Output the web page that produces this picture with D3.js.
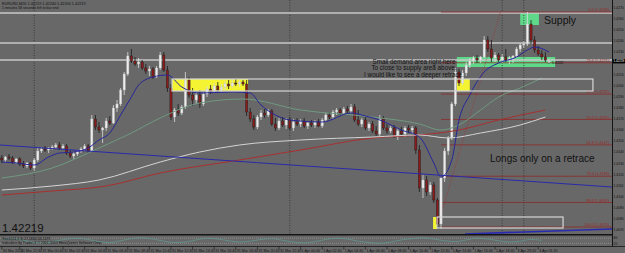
<!DOCTYPE html>
<html><head><meta charset="utf-8">
<script src="https://cdn.jsdelivr.net/npm/d3@7"></script>
<style>body{margin:0;background:#686868;overflow:hidden}svg{display:block}text{font-family:"Liberation Sans",Arial,sans-serif}</style>
</head><body><svg id="c" width="625" height="253"></svg>
<script>
// ---- DATA (EURUSD M20) ----
const open=[1.41348,1.41330,1.41357,1.41348,1.41312,1.41339,1.41294,1.41276,1.41303,1.41258,
1.41330,1.41411,1.41429,1.41420,1.41438,1.41447,1.41465,1.41438,1.41456,1.41393,
1.41366,1.41384,1.41411,1.41429,1.41456,1.41411,1.41699,1.41627,1.41600,1.41618,
1.41681,1.41663,1.41798,1.41834,1.41960,1.42104,1.42266,1.42221,1.42194,1.42212,
1.42158,1.42131,1.42149,1.42077,1.42158,1.42275,1.42140,1.41978,1.41717,1.41780,
1.41753,1.41807,1.42050,1.41915,1.41870,1.41915,1.41834,1.41924,1.41969,1.41951,
1.41996,1.41960,1.41987,1.42014,1.41996,1.42023,1.42014,1.42032,1.42014,1.41762,
1.41699,1.41627,1.41717,1.41753,1.41735,1.41771,1.41654,1.41618,1.41681,1.41645,
1.41690,1.41618,1.41672,1.41654,1.41681,1.41636,1.41663,1.41645,1.41672,1.41636,
1.41690,1.41735,1.41717,1.41762,1.41780,1.41753,1.41789,1.41771,1.41807,1.41690,
1.41654,1.41690,1.41618,1.41654,1.41591,1.41564,1.41699,1.41618,1.41591,1.41618,
1.41546,1.41591,1.41564,1.41618,1.41600,1.41618,1.41420,1.41078,1.41150,1.41042,
1.41105,1.40970,1.40754,1.41168,1.41411,1.41528,1.41834,1.42122,1.42023,1.42113,
1.42185,1.42221,1.42248,1.42230,1.42257,1.42410,1.42329,1.42248,1.42275,1.42230,
1.42257,1.42230,1.42248,1.42266,1.42329,1.42365,1.42374,1.42554,1.42410,1.42320,
1.42284,1.42257,1.42219];
const high=[1.41375,1.41366,1.41384,1.41366,1.41348,1.41357,1.41321,1.41312,1.41312,1.41348,
1.41438,1.41447,1.41456,1.41447,1.41465,1.41483,1.41492,1.41474,1.41474,1.41420,
1.41402,1.41420,1.41447,1.41474,1.41474,1.41735,1.41735,1.41672,1.41627,1.41708,
1.41726,1.41825,1.41870,1.41978,1.42122,1.42302,1.42329,1.42257,1.42248,1.42230,
1.42194,1.42176,1.42167,1.42176,1.42302,1.42302,1.42176,1.42014,1.41798,1.41834,
1.41825,1.42122,1.42077,1.41978,1.41942,1.41960,1.41942,1.41996,1.42005,1.42023,
1.42032,1.42014,1.42041,1.42050,1.42059,1.42059,1.42050,1.42050,1.42050,1.41798,
1.41735,1.41735,1.41780,1.41789,1.41789,1.41789,1.41708,1.41708,1.41717,1.41708,
1.41717,1.41699,1.41708,1.41699,1.41708,1.41681,1.41690,1.41690,1.41699,1.41708,
1.41753,1.41762,1.41780,1.41798,1.41798,1.41807,1.41816,1.41834,1.41834,1.41780,
1.41708,1.41717,1.41672,1.41681,1.41636,1.41735,1.41726,1.41654,1.41636,1.41645,
1.41618,1.41627,1.41636,1.41645,1.41636,1.41636,1.41465,1.41195,1.41186,1.41132,
1.41132,1.40988,1.41186,1.41438,1.41546,1.41852,1.42158,1.42149,1.42140,1.42212,
1.42248,1.42266,1.42275,1.42266,1.42446,1.42446,1.42410,1.42302,1.42293,1.42284,
1.42329,1.42266,1.42275,1.42347,1.42383,1.42401,1.42662,1.42590,1.42446,1.42356,
1.42320,1.42302,1.42240];
const low=[1.41303,1.41312,1.41330,1.41294,1.41294,1.41276,1.41258,1.41258,1.41240,1.41231,
1.41312,1.41393,1.41402,1.41393,1.41420,1.41429,1.41420,1.41420,1.41375,1.41348,
1.41339,1.41366,1.41393,1.41411,1.41393,1.41402,1.41600,1.41573,1.41483,1.41591,
1.41645,1.41654,1.41762,1.41816,1.41915,1.42086,1.42203,1.42176,1.42158,1.42140,
1.42104,1.42086,1.42059,1.42068,1.42140,1.42122,1.41942,1.41690,1.41672,1.41726,
1.41735,1.41789,1.41888,1.41816,1.41834,1.41798,1.41816,1.41897,1.41924,1.41933,
1.41942,1.41942,1.41960,1.41969,1.41978,1.41996,1.41987,1.41996,1.41726,1.41672,
1.41600,1.41609,1.41690,1.41708,1.41717,1.41636,1.41591,1.41600,1.41627,1.41609,
1.41600,1.41591,1.41636,1.41627,1.41618,1.41609,1.41627,1.41618,1.41627,1.41618,
1.41672,1.41699,1.41699,1.41735,1.41735,1.41735,1.41753,1.41753,1.41672,1.41636,
1.41627,1.41600,1.41591,1.41573,1.41546,1.41546,1.41600,1.41564,1.41573,1.41528,
1.41510,1.41546,1.41537,1.41573,1.41564,1.41384,1.41042,1.40988,1.41006,1.41015,
1.40943,1.40718,1.40709,1.41132,1.41375,1.41510,1.41816,1.41996,1.42005,1.42086,
1.42158,1.42194,1.42203,1.42203,1.42248,1.42302,1.42212,1.42212,1.42212,1.42203,
1.42212,1.42194,1.42203,1.42248,1.42302,1.42338,1.42356,1.42374,1.42293,1.42266,
1.42230,1.42212,1.42200];
const close=[1.41330,1.41357,1.41348,1.41312,1.41339,1.41294,1.41276,1.41303,1.41258,1.41330,
1.41411,1.41429,1.41420,1.41438,1.41447,1.41465,1.41438,1.41456,1.41393,1.41366,
1.41384,1.41411,1.41429,1.41456,1.41411,1.41699,1.41627,1.41600,1.41618,1.41681,
1.41663,1.41798,1.41834,1.41960,1.42104,1.42266,1.42221,1.42194,1.42212,1.42158,
1.42131,1.42149,1.42077,1.42158,1.42275,1.42140,1.41978,1.41717,1.41780,1.41753,
1.41807,1.42050,1.41915,1.41870,1.41915,1.41834,1.41924,1.41969,1.41951,1.41996,
1.41960,1.41987,1.42014,1.41996,1.42023,1.42014,1.42032,1.42014,1.41762,1.41699,
1.41627,1.41717,1.41753,1.41735,1.41771,1.41654,1.41618,1.41681,1.41645,1.41690,
1.41618,1.41672,1.41654,1.41681,1.41636,1.41663,1.41645,1.41672,1.41636,1.41690,
1.41735,1.41717,1.41762,1.41780,1.41753,1.41789,1.41771,1.41807,1.41690,1.41654,
1.41690,1.41618,1.41654,1.41591,1.41564,1.41699,1.41618,1.41591,1.41618,1.41546,
1.41591,1.41564,1.41618,1.41600,1.41618,1.41420,1.41078,1.41150,1.41042,1.41105,
1.40970,1.40754,1.41168,1.41411,1.41528,1.41834,1.42122,1.42023,1.42113,1.42185,
1.42221,1.42248,1.42230,1.42257,1.42410,1.42329,1.42248,1.42275,1.42230,1.42257,
1.42230,1.42248,1.42266,1.42329,1.42365,1.42374,1.42554,1.42410,1.42320,1.42284,
1.42257,1.42230,1.42219];

// moving averages, [bar, price]
const maFast=[[0,1.41312],[4,1.41303],[9,1.41285],[13,1.41357],[16,1.41393],[20,1.41402],[24,1.41438],[27,1.41510],[30,1.41573],[33,1.41735],[36,1.41897],[38,1.42005],[42,1.42077],[46,1.42095],[50,1.41987],[55,1.41933],[64,1.41942],[69,1.41933],[72,1.41825],[76,1.41735],[80,1.41690],[89,1.41672],[97,1.41753],[101,1.41726],[105,1.41690],[111,1.41600],[116,1.41537],[120,1.41303],[122,1.41177],[125,1.41330],[127,1.41690],[130,1.41915],[134,1.42122],[138,1.42203],[143,1.42257],[146,1.42320],[148,1.42347],[152,1.42302]];
const maMid=[[0,1.41168],[14,1.41258],[27,1.41438],[36,1.41573],[44,1.41708],[55,1.41843],[67,1.41879],[83,1.41780],[103,1.41717],[116,1.41654],[122,1.41600],[127,1.41645],[133,1.41780],[138,1.41897],[144,1.41978],[150,1.42068]];
const maSlow=[[0,1.41060],[14,1.41096],[27,1.41150],[44,1.41312],[55,1.41402],[66,1.41465],[83,1.41510],[103,1.41537],[116,1.41555],[124,1.41528],[133,1.41573],[144,1.41645],[151,1.41717]];
const maLong=[[0,1.41015],[14,1.41051],[29,1.41096],[44,1.41213],[66,1.41330],[83,1.41420],[103,1.41528],[116,1.41555],[127,1.41600],[138,1.41690],[151,1.41780]];

const trendLine=[[-0.5,1.41465],[169.5,1.41087]];
const trendLine2=[[128.7,1.40664],[169.5,1.40709]];
const hLines=[1.42653,1.42383,1.42230];
const fibLevels=["0.0","23.6","38.2","50.0","61.8","76.4","88.6","100.0"];
const fibPrices=[1.42662,1.42205,1.41923,1.41695,1.41466,1.41184,1.40948,1.40727];
const fibDiag=[[121,1.40727],[138.5,1.42662]];
// rectangles: [startBar, endBar, topPrice, bottomPrice, kind]
const zones=[[47.3,68.4,1.42059,1.41951,"yellow"],[126.4,130,1.42059,1.41951,"yellow"],
[119.8,120.9,1.40817,1.40709,"yellow"],[126.4,153.7,1.42257,1.42167,"green"],[144,149.2,1.42653,1.42545,"green"]];
const frames=[[47.3,164.2,1.42059,1.41951],[120.9,155.9,1.40817,1.40718]];
const separators=[9,80,139,145];
const timeTicks=[[0,"30 Mar 2011"],[5,"30 Mar 22:40"],[11,"31 Mar 00:40"],[17,"31 Mar 02:40"],[23,"31 Mar 04:40"],[29,"31 Mar 06:40"],[35,"31 Mar 08:40"],[41,"31 Mar 10:40"],[47,"31 Mar 12:40"],[53,"31 Mar 14:40"],[59,"31 Mar 16:40"],[65,"31 Mar 18:40"],[71,"31 Mar 20:40"],[77,"31 Mar 22:40"],[83,"1 Apr 00:40"],[89,"1 Apr 02:40"],[95,"1 Apr 04:40"],[101,"1 Apr 06:40"],[107,"1 Apr 08:40"],[113,"1 Apr 10:40"],[119,"1 Apr 12:40"],[125,"1 Apr 14:40"],[131,"1 Apr 16:40"],[137,"1 Apr 18:40"],[143,"3 Apr 23:20"],[149,"4 Apr 01:20"]];
const priceTicks=[1.4070,1.4080,1.4090,1.4100,1.4110,1.4120,1.4130,1.4140,1.4150,1.4160,1.4170,1.4180,1.4190,1.4200,1.4210,1.4220,1.4230,1.4240,1.4250,1.4260,1.4270];
const osc=[60,75,55,30,25,45,70,80,65,40,30,50,75,85,70,45,30,35,60,80,70,50,35,45,65,75,55,35,25,40,65,80,70,45,30,20,35,60,75,85,70,50,40,60,80,70,50,35,45,65,55];
const lastPrice=1.42219;

// ---- DRAW ----
const svg=d3.select("#c");
const plotR=612, mainB=234;
const x=d3.scaleLinear().domain([0,170]).range([1.8,1.8+170*3.6]);
const y=d3.scaleLinear().domain([1.40664,1.42770]).range([mainB,0]);
const yo=d3.scaleLinear().domain([0,100]).range([245,236.5]);

svg.append("rect").attr("width",625).attr("height",253).attr("fill","#686868");
svg.append("defs").append("clipPath").attr("id","cp").append("rect").attr("width",plotR).attr("height",mainB);
const g=svg.append("g").attr("clip-path","url(#cp)");

const zoneCol={yellow:"#f4f433",green:"#5fd88a"};
g.selectAll(".z").data(zones).join("rect")
 .attr("x",d=>x(d[0])).attr("width",d=>x(d[1])-x(d[0]))
 .attr("y",d=>y(d[2])).attr("height",d=>y(d[3])-y(d[2]))
 .attr("fill",d=>zoneCol[d[4]]);

// separators
g.selectAll(".sep").data(separators).join("line")
 .attr("x1",d=>x(d)).attr("x2",d=>x(d)).attr("y1",0).attr("y2",253)
 .attr("stroke","#2e2e2e").attr("stroke-width",0.8).attr("stroke-dasharray","1,1.5");

// horizontal lines
g.selectAll(".hl").data(hLines).join("line")
 .attr("x1",0).attr("x2",plotR).attr("y1",d=>y(d)).attr("y2",d=>y(d))
 .attr("stroke","#c9c9c9").attr("stroke-width",1.3);

// fib
g.selectAll(".fb").data(fibPrices).join("line")
 .attr("x1",x(122)).attr("x2",plotR).attr("y1",d=>y(d)).attr("y2",d=>y(d))
 .attr("stroke","#8e2a2a").attr("stroke-width",0.8);
const lineP=d3.line().x(d=>x(d[0])).y(d=>y(d[1]));
g.append("path").attr("d",lineP(fibDiag)).attr("fill","none").attr("stroke","#a03030").attr("stroke-width",0.7).attr("stroke-dasharray","1,1.2");
g.selectAll(".fbt").data(fibPrices).join("text")
 .attr("x",609).attr("y",d=>y(d)-0.8).attr("text-anchor","end")
 .attr("font-size",3.8).attr("fill","#9a2a2a")
 .text((d,i)=>fibLevels[i]+" ("+d.toFixed(4)+")");

// candles
const idx=d3.range(open.length);
const cw=2.2;
g.selectAll(".wk").data(idx).join("line")
 .attr("x1",i=>x(i)).attr("x2",i=>x(i)).attr("y1",i=>y(high[i])).attr("y2",i=>y(low[i]))
 .attr("stroke",i=>close[i]>=open[i]?"#dcdcdc":"#1c1c1c").attr("stroke-width",0.8);
g.selectAll(".bd").data(idx).join("rect")
 .attr("x",i=>x(i)-cw/2).attr("width",cw)
 .attr("y",i=>y(Math.max(open[i],close[i])))
 .attr("height",i=>Math.max(0.8,Math.abs(y(open[i])-y(close[i]))))
 .attr("fill",i=>close[i]>=open[i]?"#ececec":"#8c1c1c")
 .attr("stroke",i=>close[i]>=open[i]?"#bdbdbd":"#1c1c1c").attr("stroke-width",0.4);

// MAs
const curve=d3.line().x(d=>x(d[0])).y(d=>y(d[1])).curve(d3.curveMonotoneX);
[[maLong,"#a8302e"],[maSlow,"#d4d4d4"],[maMid,"#6f9a80"],[maFast,"#26269a"]].forEach(([d,c])=>{
 g.append("path").attr("d",curve(d)).attr("fill","none").attr("stroke",c).attr("stroke-width",1);
});
g.append("path").attr("d",lineP(trendLine)).attr("fill","none").attr("stroke","#2a2aa8").attr("stroke-width",1);
g.append("path").attr("d",lineP(trendLine2)).attr("fill","none").attr("stroke","#2a2ab0").attr("stroke-width",1.6);

// frames
g.selectAll(".fr").data(frames).join("rect")
 .attr("x",d=>x(d[0])).attr("width",d=>x(d[1])-x(d[0]))
 .attr("y",d=>y(d[2])).attr("height",d=>y(d[3])-y(d[2]))
 .attr("fill","none").attr("stroke","#d6d6d6").attr("stroke-width",1.2);

// annotations
const T=(t,xx,yy,fs,anchor)=>g.append("text").attr("x",xx).attr("y",yy).attr("font-size",fs).attr("fill","#111").attr("text-anchor",anchor||"start").text(t);
T("Supply",544,24,10.5);
T("Longs only on a retrace",490,162,10);
T("Small demand area right here",414,63.5,6.3,"middle");
T("To close to supply area above.",414,70.3,6.3,"middle");
T("I would like to see a deeper retrace.",414,77.1,6.3,"middle");
T("1.42219",2,232,11.5);
T("\u2190 1.4222",547,63.5,3.8);
T("EURUSD,M20  1.42219 1.42240 1.42200 1.42219",2,4.5,3.8);
T("1 minutes 58 seconds left to bar end",2,9,3.5);

// sub window
svg.append("line").attr("x1",0).attr("x2",plotR).attr("y1",234.8).attr("y2",234.8).attr("stroke","#151515").attr("stroke-width",1.4);
svg.append("line").attr("x1",0).attr("x2",plotR).attr("y1",yo(80)).attr("y2",yo(80)).attr("stroke","#b0b0b0").attr("stroke-width",0.5).attr("stroke-dasharray","1,1");
svg.append("line").attr("x1",0).attr("x2",plotR).attr("y1",yo(20)).attr("y2",yo(20)).attr("stroke","#b0b0b0").attr("stroke-width",0.5).attr("stroke-dasharray","1,1");
const oscLine=d3.line().x((d,i)=>x(i*3)).y(d=>yo(d)).curve(d3.curveMonotoneX);
svg.append("path").attr("d",oscLine(osc)).attr("fill","none").attr("stroke","#5f9e92").attr("stroke-width",0.7);
svg.append("text").attr("x",2).attr("y",239.5).attr("font-size",3.5).attr("fill","#111").text("Stoch(14,3,3) 27.1830 18.2479");
svg.append("text").attr("x",2).attr("y",244.3).attr("font-size",3.5).attr("fill","#111").text("Indicators by Trader-X  \u00a9 2001-2010 MetaQuotes Software Corp.");
svg.append("line").attr("x1",0).attr("x2",625).attr("y1",246.5).attr("y2",246.5).attr("stroke","#151515").attr("stroke-width",0.8);

// right axis
svg.append("line").attr("x1",plotR+0.5).attr("x2",plotR+0.5).attr("y1",0).attr("y2",246.5).attr("stroke","#151515").attr("stroke-width",1);
const ra=svg.append("g");
ra.selectAll("text").data(priceTicks.filter(p=>Math.abs(y(p)-y(lastPrice))>4)).join("text")
 .attr("x",613.6).attr("y",d=>y(d)+1.2).attr("font-size",3.3).attr("fill","#111").text(d=>d.toFixed(4));
ra.append("rect").attr("x",613).attr("y",y(lastPrice)-2.2).attr("width",12).attr("height",4.4).attr("fill","#000");
ra.append("text").attr("x",613.4).attr("y",y(lastPrice)+1.1).attr("font-size",3).attr("fill","#fff").text(lastPrice.toFixed(5));
ra.append("text").attr("x",613.6).attr("y",yo(80)+1.2).attr("font-size",3.3).attr("fill","#111").text("80");
ra.append("text").attr("x",613.6).attr("y",yo(20)+1.2).attr("font-size",3.3).attr("fill","#111").text("20");

// time axis
const ta=svg.append("g");
ta.selectAll("line").data(timeTicks).join("line")
 .attr("x1",d=>x(d[0])).attr("x2",d=>x(d[0])).attr("y1",246.5).attr("y2",249.5).attr("stroke","#151515").attr("stroke-width",0.6);
ta.selectAll("text").data(timeTicks).join("text")
 .attr("x",d=>x(d[0])+1).attr("y",251.5).attr("font-size",3.6).attr("fill","#111").text(d=>d[1]);
</script></body></html>
